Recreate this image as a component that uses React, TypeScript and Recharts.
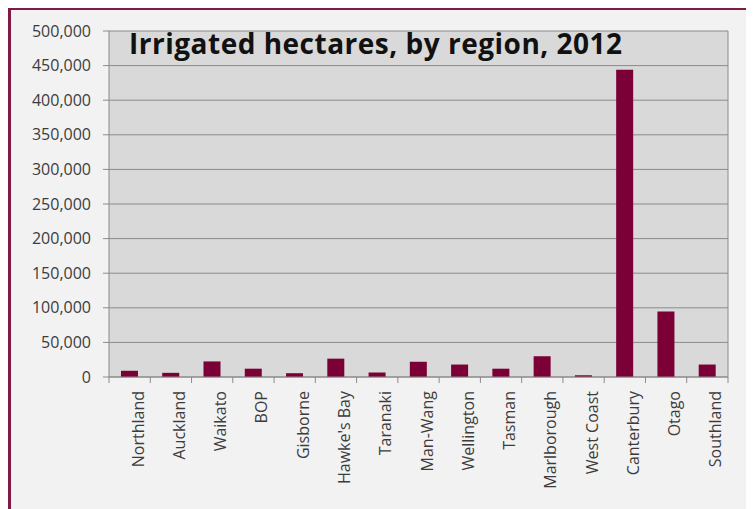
import React from 'react';
import { BarChart, Bar, XAxis, YAxis, CartesianGrid } from 'recharts';

// Irrigated hectares by NZ region, 2012
const regions = [
  'Northland', 'Auckland', 'Waikato', 'BOP', 'Gisborne', "Hawke's Bay", 'Taranaki',
  'Man-Wang', 'Wellington', 'Tasman', 'Marlborough', 'West Coast', 'Canterbury', 'Otago', 'Southland'
];
const hectares = [
  9000, 6000, 22500, 12000, 5500, 26500, 6500,
  22000, 18000, 12000, 30000, 2500, 444000, 94500, 18000
];
const yTicks = [0, 50000, 100000, 150000, 200000, 250000, 300000, 350000, 400000, 450000, 500000];

const data = regions.map((region, i) => ({ region, value: hectares[i] }));

const CHART_W = 740;
const CHART_H = 500;
const PLOT_LEFT = 98;
const PLOT_RIGHT = 717;
const PLOT_TOP = 21;
const PLOT_BOTTOM = 367;
const step = (PLOT_RIGHT - PLOT_LEFT) / regions.length;

const font = '"Open Sans", "Noto Sans", sans-serif';
const textColor = '#3c3c3c';

const RegionTick = (props: any) => {
  const { x, y, payload, index } = props;
  const last = index === regions.length - 1;
  return (
    <g>
      <line x1={x - step / 2} y1={y - 8} x2={x - step / 2} y2={y - 2} stroke="#8a8a8a" />
      {last && <line x1={x + step / 2} y1={y - 8} x2={x + step / 2} y2={y - 2} stroke="#8a8a8a" />}
      <text
        x={0}
        y={0}
        transform={`translate(${x + 14}, ${y + 6}) rotate(-90)`}
        textAnchor="end"
        fontFamily={font}
        fontSize={16}
        fill={textColor}
      >
        {payload.value}
      </text>
    </g>
  );
};

export default function App() {
  return (
    <div
      style={{
        position: 'relative',
        width: CHART_W,
        height: CHART_H,
        marginTop: -1,
        border: '3px solid #7d1a45',
        background: '#f2f2f2',
      }}
    >
      <BarChart
        width={CHART_W}
        height={CHART_H}
        data={data}
        margin={{ top: PLOT_TOP, right: CHART_W - PLOT_RIGHT, left: 0, bottom: 0 }}
        barCategoryGap="29%"
      >
        <CartesianGrid
          stroke="#8a8a8a"
          fill="#d9d9d9"
          verticalPoints={[PLOT_RIGHT]}
          horizontalValues={yTicks}
        />
        <XAxis
          dataKey="region"
          interval={0}
          height={CHART_H - PLOT_BOTTOM}
          tickLine={false}
          axisLine={{ stroke: '#8a8a8a' }}
          tick={<RegionTick />}
        />
        <YAxis
          width={PLOT_LEFT}
          domain={[0, 500000]}
          ticks={yTicks}
          tickSize={6}
          tickMargin={12}
          tickLine={{ stroke: '#8a8a8a' }}
          axisLine={{ stroke: '#8a8a8a' }}
          tick={{ fontFamily: font, fontSize: 16, fill: textColor }}
          tickFormatter={(v: number) => v.toLocaleString('en-US')}
        />
        <Bar dataKey="value" fill="#7a0036" isAnimationActive={false} />
      </BarChart>
      <div
        style={{
          position: 'absolute',
          left: 118,
          top: 14,
          fontFamily: font,
          fontWeight: 700,
          fontSize: 28,
          letterSpacing: 0.5,
          color: '#111',
          whiteSpace: 'nowrap',
        }}
      >
        Irrigated hectares, by region, 2012
      </div>
    </div>
  );
}
